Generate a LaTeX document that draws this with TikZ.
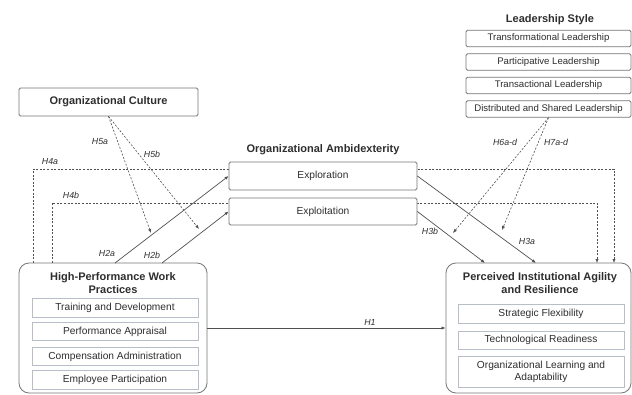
\documentclass[tikz,border=0pt]{standalone}
\usepackage{fontspec}
\setmainfont{Liberation Sans}
\usetikzlibrary{arrows.meta}
\usetikzlibrary{calc}
\definecolor{linegray}{HTML}{505050}
\definecolor{boxgray}{HTML}{767676}
\definecolor{innergray}{HTML}{B8BEC8}
\definecolor{txtgray}{HTML}{2E2E2E}
\tikzset{
  box/.style={draw=boxgray, fill=white, rounded corners=1.5pt, line width=0.8pt,
    inner sep=0pt, text=txtgray, font=\fontsize{10.2}{12}\selectfont},
  inbox/.style={box, draw=innergray, rounded corners=0pt, minimum width=166pt},
  lsbox/.style={box, minimum width=165pt, minimum height=16.5pt, font=\fontsize{9.6}{11}\selectfont},
  bigbox/.style={draw=boxgray, fill=white, rounded corners=10pt, line width=0.8pt,
    minimum width=#1, minimum height=130pt, inner sep=0pt},
  heading/.style={text=txtgray, align=center, font=\bfseries\fontsize{11}{13}\selectfont},
  hyp/.style={text=txtgray, font=\itshape\fontsize{8.8}{10}\selectfont},
  link/.style={draw=linegray, line width=0.7pt, -{Latex[length=4pt,width=3.2pt]}},
  dlink/.style={draw=linegray, line width=0.6pt, dash pattern=on 2pt off 1.6pt,
    -{Latex[length=4pt,width=3.2pt]}}
}

\begin{document}
\begin{tikzpicture}[x=1pt,y=-1pt]
  \useasboundingbox (0,0) rectangle (632,394);
  % end points of the connectors
  \coordinate (h4a) at (33,263);
  \coordinate (h4b) at (52,263);
  \coordinate (h2a) at (115,263);
  \coordinate (h2b) at (162,263);
  \coordinate (h3b) at (485,263);
  \coordinate (h3a) at (536,263);
  \coordinate (h4bend) at (597,263);
  \coordinate (h4aend) at (614,263);
  \coordinate (m5a) at (151,233);
  \coordinate (m5b) at (199,229);
  \coordinate (m6) at (453,233);
  \coordinate (m7) at (502,230);
  % moderated paths (drawn first, boxes lie on top)
  \draw[dlink] (h4a) -- (33,169) -- (614,169) -- (h4aend);
  \draw[dlink] (h4b) -- (52,203) -- (597,203) -- (h4bend);
  % mediator boxes
  \node[heading] (oatitle) at (323,150) {Organizational Ambidexterity};
  \node[box, minimum width=188pt, minimum height=28pt] (explor) at (323,176) {Exploration};
  \node[box, minimum width=188pt, minimum height=27pt] (exploit) at (323,211.5) {Exploitation};
  % moderators
  \node[box, minimum width=179pt, minimum height=28pt, font=\bfseries\fontsize{11}{13}\selectfont]
    (culture) at (108.5,102) {Organizational Culture};
  \node[heading] (lstitle) at (550,20) {Leadership Style};
  \node[lsbox] (trf) at (548.5,38.5) {Transformational Leadership};
  \node[lsbox] (par) at (548.5,62) {Participative Leadership};
  \node[lsbox] (trs) at (548.5,85.5) {Transactional Leadership};
  \node[lsbox] (dsl) at (548.5,109) {Distributed and Shared Leadership};
  % independent variable
  \node[bigbox=188pt] (hpwp) at (113,328) {};
  \node[heading] (hpwptitle) at (113,283.5) {High-Performance Work\\Practices};
  \node[inbox, minimum height=18.5pt] (tnd) at (115,308) {Training and Development};
  \node[inbox, minimum height=18.5pt] (pap) at (115,331.5) {Performance Appraisal};
  \node[inbox, minimum height=18.5pt] (cad) at (115,356.5) {Compensation Administration};
  \node[inbox, minimum height=18.5pt] (epa) at (115,380) {Employee Participation};
  % dependent variable
  \node[bigbox=185pt] (piar) at (538.5,328) {};
  \node[heading] (piartitle) at (540,283.5) {Perceived Institutional Agility\\and Resilience};
  \node[inbox, minimum height=19pt] (sfl) at (541,313.5) {Strategic Flexibility};
  \node[inbox, minimum height=18pt] (tre) at (541,340) {Technological Readiness};
  \node[inbox, minimum height=31pt, align=center] (ola) at (541,371.5) {Organizational Learning and\\Adaptability};
  % direct paths
  \draw[link] (hpwp.east) -- (piar.west);
  \draw[link] (h2a) -- (explor.west);
  \draw[link] (h2b) -- (exploit.west);
  \draw[link] (explor.east) -- (h3a);
  \draw[link] (exploit.east) -- (h3b);
  \draw[dlink] (culture.south) -- (m5a);
  \draw[dlink] (culture.south) -- (m5b);
  \draw[dlink] (dsl.south) -- (m6);
  \draw[dlink] (dsl.south) -- (m7);
  % label paths
  \node[hyp] (l1) at (370,322) {H1};
  \node[hyp] (l2a) at (107,253) {H2a};
  \node[hyp] (l2b) at (152,255) {H2b};
  \node[hyp] (l3a) at (527,241) {H3a};
  \node[hyp] (l3b) at (430,231) {H3b};
  \node[hyp] (l4a) at (50,162) {H4a};
  \node[hyp] (l4b) at (71,195) {H4b};
  \node[hyp] (l5a) at (100,142) {H5a};
  \node[hyp] (l5b) at (152,154) {H5b};
  \node[hyp] (l6) at (505,142) {H6a-d};
  \node[hyp] (l7) at (556,142) {H7a-d};
\end{tikzpicture}
\end{document}
